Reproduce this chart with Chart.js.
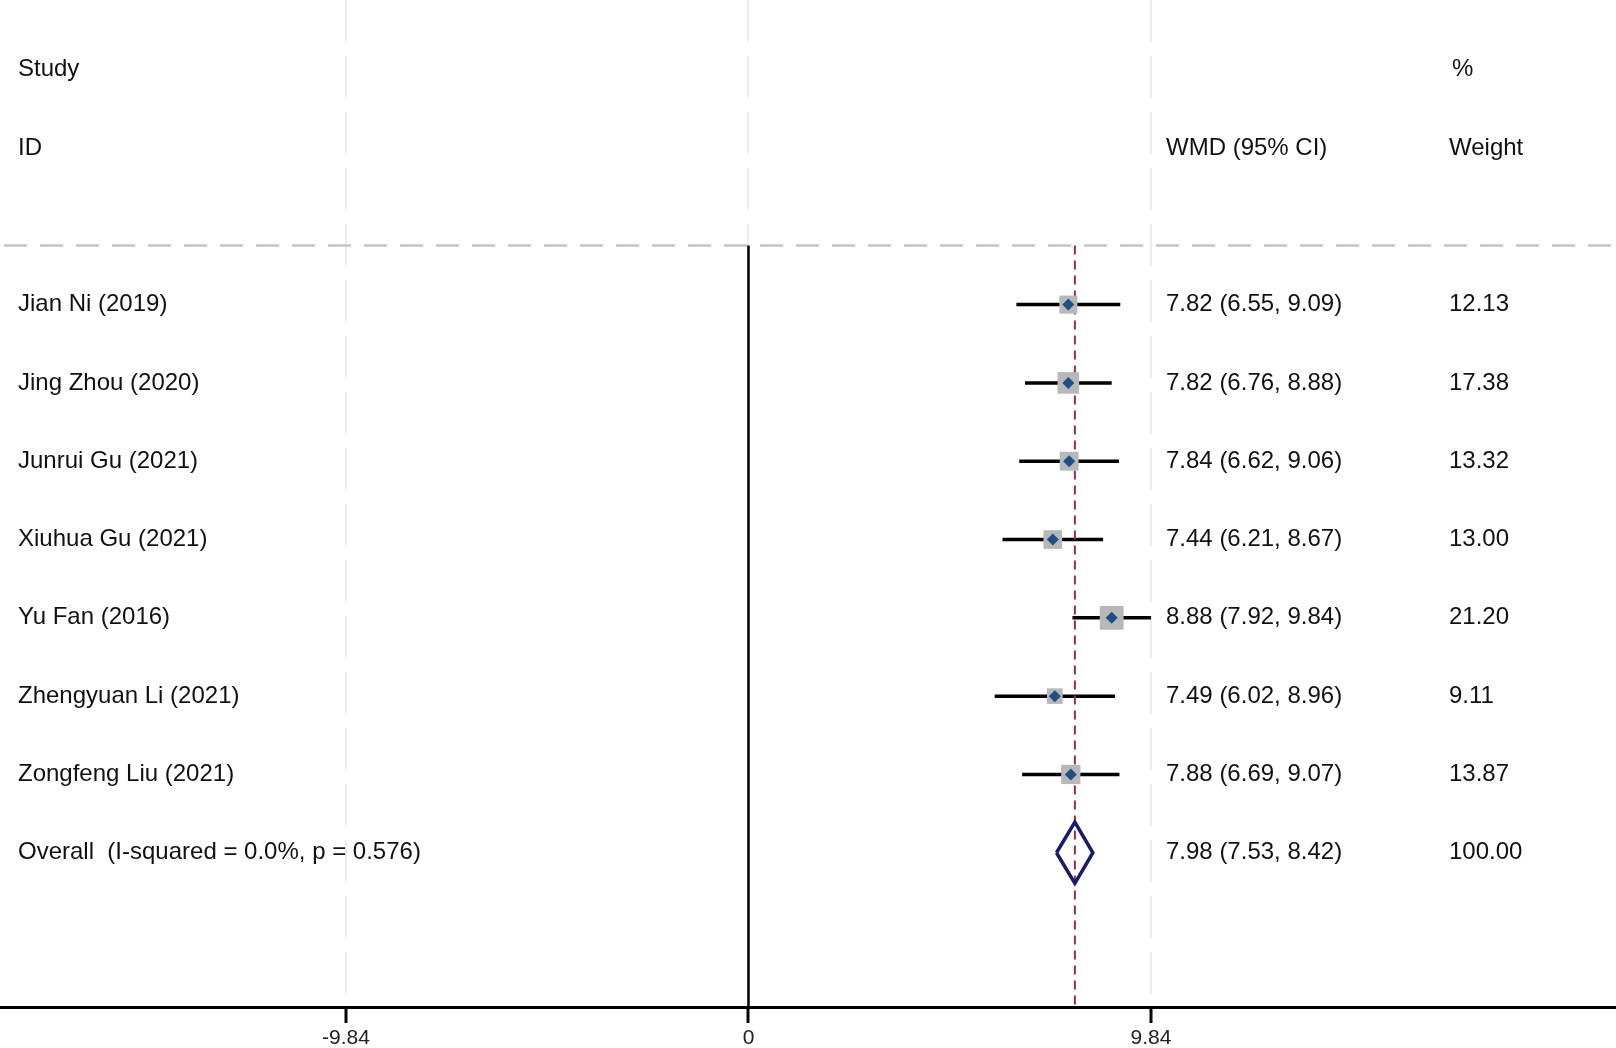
<!DOCTYPE html>
<html>
<head>
<meta charset="utf-8">
<script src="https://cdn.jsdelivr.net/npm/chart.js@4.4.0/dist/chart.umd.min.js"></script>
<style>
  html, body { margin: 0; padding: 0; background: #fff; }
  #wrap { width: 1616px; height: 1048px; position: relative; }
</style>
</head>
<body>
<div id="wrap"><canvas id="forest"></canvas></div>
<script>
// study data
const studies = ['Jian Ni (2019)', 'Jing Zhou (2020)', 'Junrui Gu (2021)', 'Xiuhua Gu (2021)',
  'Yu Fan (2016)', 'Zhengyuan Li (2021)', 'Zongfeng Liu (2021)'];
const wmd = [7.82, 7.82, 7.84, 7.44, 8.88, 7.49, 7.88];
const lower = [6.55, 6.76, 6.62, 6.21, 7.92, 6.02, 6.69];
const upper = [9.09, 8.88, 9.06, 8.67, 9.84, 8.96, 9.07];
const weights = [12.13, 17.38, 13.32, 13.00, 21.20, 9.11, 13.87];

const overallLabel = 'Overall  (I-squared = 0.0%, p = 0.576)';
const overallEst = 7.98;
const overallLo = 7.53;
const overallHi = 8.42;
const overallWeight = 100.00;

const xTicks = [-9.84, 0, 9.84];

const FONT = '"Liberation Sans", Arial, Helvetica, sans-serif';
const overallRow = studies.length;
const sepRow = -0.755;
const X_MIN = -18.30, X_MAX = 21.21;

const fmt = v => v.toFixed(2);

// one dataset per CI line
const ciSets = studies.map((s, i) => ({
  type: 'scatter',
  data: [{ x: lower[i], y: i }, { x: upper[i], y: i }],
  showLine: true,
  borderColor: '#000',
  borderWidth: 3.5,
  pointRadius: 0,
  order: 5,
}));

const datasets = [
  // separator under the header
  {
    data: [{ x: X_MIN + 0.1, y: sepRow }, { x: X_MAX, y: sepRow }],
    showLine: true, borderColor: '#c4c4c4', borderWidth: 2.5, borderDash: [23, 13],
    pointRadius: 0, order: 9,
  },
  // null line
  {
    data: [{ x: 0, y: sepRow }, { x: 0, y: 9.5 }],
    showLine: true, borderColor: '#000', borderWidth: 2.5, pointRadius: 0, order: 8,
  },
  // overall effect line
  {
    data: [{ x: overallEst, y: sepRow }, { x: overallEst, y: 9.5 }],
    showLine: true, borderColor: '#8e3446', borderWidth: 2, borderDash: [9, 6],
    pointRadius: 0, order: 4,
  },
  ...ciSets,
  // weight squares
  {
    data: wmd.map((v, i) => ({ x: v, y: i })),
    pointStyle: 'rect',
    pointRadius: ctx => 3.66 * Math.sqrt(weights[ctx.dataIndex] || 0),
    pointBackgroundColor: '#b8b8b8',
    pointBorderWidth: 0,
    order: 3,
  },
  // point estimates
  {
    data: wmd.map((v, i) => ({ x: v, y: i })),
    pointStyle: 'rectRot',
    pointRadius: 6,
    pointBackgroundColor: '#1f4f86',
    pointBorderWidth: 0,
    order: 2,
  },
  // overall diamond
  {
    data: [
      { x: overallLo, y: overallRow },
      { x: overallEst, y: overallRow - 0.39 },
      { x: overallHi, y: overallRow },
      { x: overallEst, y: overallRow + 0.39 },
      { x: overallLo, y: overallRow },
    ],
    showLine: true, borderColor: '#1a1a6c', borderWidth: 3.5, pointRadius: 0,
    borderJoinStyle: 'miter', order: 1,
  },
];

const textPlugin = {
  id: 'forestText',
  afterDatasetsDraw(chart) {
    const { ctx } = chart;
    const y = chart.scales.y;
    ctx.save();
    ctx.fillStyle = '#111';
    ctx.font = '24px ' + FONT;
    ctx.textBaseline = 'middle';
    ctx.textAlign = 'left';
    const colStudy = 18, colWmd = 1166, colW = 1449;
    ctx.fillText('Study', colStudy, y.getPixelForValue(-3));
    ctx.fillText('ID', colStudy, y.getPixelForValue(-2));
    ctx.fillText('WMD (95% CI)', colWmd, y.getPixelForValue(-2));
    ctx.fillText('%', colW + 3, y.getPixelForValue(-3));
    ctx.fillText('Weight', colW, y.getPixelForValue(-2));
    studies.forEach((s, i) => {
      const py = y.getPixelForValue(i);
      ctx.fillText(s, colStudy, py);
      ctx.fillText(`${fmt(wmd[i])} (${fmt(lower[i])}, ${fmt(upper[i])})`, colWmd, py);
      ctx.fillText(fmt(weights[i]), colW, py);
    });
    const oy = y.getPixelForValue(overallRow);
    ctx.fillText(overallLabel, colStudy, oy);
    ctx.fillText(`${fmt(overallEst)} (${fmt(overallLo)}, ${fmt(overallHi)})`, colWmd, oy);
    ctx.fillText(fmt(overallWeight), colW, oy);
    ctx.restore();
  },
};

new Chart(document.getElementById('forest'), {
  type: 'scatter',
  data: { datasets },
  options: {
    responsive: true,
    maintainAspectRatio: false,
    animation: false,
    layout: { padding: 0, autoPadding: false },
    scales: {
      x: {
        type: 'linear',
        min: X_MIN,
        max: X_MAX,
        afterBuildTicks: scale => { scale.ticks = xTicks.map(v => ({ value: v })); },
        afterFit: scale => { scale.height = 41; },
        ticks: {
          callback: v => (v === 0 ? '0' : v.toFixed(2)),
          font: { family: FONT, size: 21, lineHeight: 1.0 },
          color: '#222',
          padding: 5,
          maxRotation: 0,
        },
        grid: {
          color: '#ececec',
          lineWidth: 2,
          tickColor: '#000',
          tickLength: 16,
          tickWidth: 3,
        },
        border: { color: '#000', width: 3, dash: [42, 14] },
      },
      y: {
        type: 'linear',
        display: false,
        reverse: true,
        min: -3.89,
        max: 8.97,
      },
    },
    plugins: {
      legend: { display: false },
      tooltip: { enabled: false },
    },
  },
  plugins: [textPlugin],
});
</script>
</body>
</html>
